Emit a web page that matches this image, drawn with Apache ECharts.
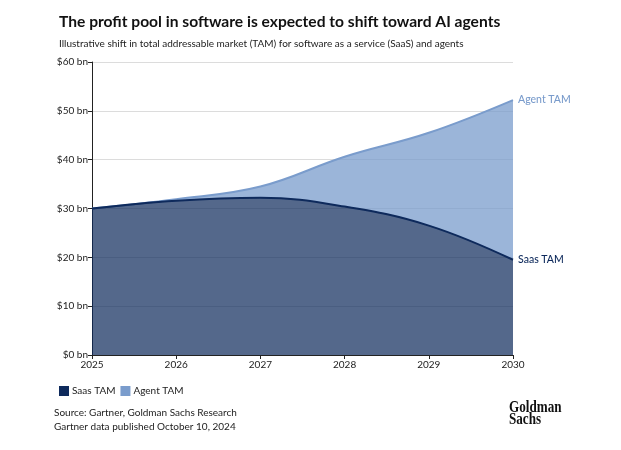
<!DOCTYPE html>
<html><head><meta charset="utf-8">
<script src="https://cdn.jsdelivr.net/npm/echarts@6/dist/echarts.min.js"></script>
<style>html,body{margin:0;padding:0;background:#fff}#c{width:621px;height:450px}</style>
</head><body><div id="c"></div>
<script>
const years = ['2025','2026','2027','2028','2029','2030'];
const saasTam = [30, 31.6, 32.2, 30.4, 26.5, 19.5];
const agentTamTotal = [30, 31.9, 34.5, 40.6, 45.5, 52.2];
const yTicks = [0, 10, 20, 30, 40, 50, 60];
const agentIncrement = agentTamTotal.map((v, i) => +(v - saasTam[i]).toFixed(2));

const FONT = 'Lato, "Open Sans", sans-serif';
const DARK = '#0e2a5c';
const LIGHT = '#7a9ccc';
const chart = echarts.init(document.getElementById('c'));
chart.setOption({
  animation: false,
  textStyle: { fontFamily: FONT },
  title: [
    { text: 'The profit pool in software is expected to shift toward AI agents', left: 54, top: 9,
      textStyle: { fontSize: 15.6, fontWeight: 'bold', color: '#111', fontFamily: FONT } },
    { text: 'Illustrative shift in total addressable market (TAM) for software as a service (SaaS) and agents', left: 54, top: 34,
      textStyle: { fontSize: 10, fontWeight: 'normal', color: '#222', fontFamily: FONT } }
  ],
  grid: { left: 92, right: 108, top: 62, bottom: 95, containLabel: false },
  legend: {
    left: 54, top: 381, itemWidth: 10, itemHeight: 10, itemGap: 5,
    icon: 'rect',
    textStyle: { fontSize: 10, color: '#222', fontFamily: FONT, padding: [0, 0, 0, -2] },
    data: [
      { name: 'Saas TAM', itemStyle: { color: DARK } },
      { name: 'Agent TAM', itemStyle: { color: LIGHT } }
    ]
  },
  xAxis: {
    type: 'category', data: years, boundaryGap: false,
    axisLine: { show: true, lineStyle: { color: '#222', width: 1 } },
    axisTick: { show: true, length: 4, lineStyle: { color: '#222' } },
    axisLabel: { fontSize: 10, color: '#222', margin: 5, fontFamily: FONT },
    splitLine: { show: false }
  },
  yAxis: {
    type: 'value', min: 0, max: 60, interval: 10,
    axisLine: { show: true, lineStyle: { color: '#222', width: 1 } },
    axisTick: { show: true, length: 4, lineStyle: { color: '#222' } },
    axisLabel: { fontSize: 10, color: '#222', margin: 4, fontFamily: FONT,
      formatter: v => yTicks.includes(v) ? '$' + v + ' bn' : '' },
    splitLine: { show: true, lineStyle: { color: '#dcdcdc', width: 1 } }
  },
  series: [
    { name: 'Saas TAM', type: 'line', stack: 'tam', data: saasTam, smooth: 0.4, symbol: 'none',
      lineStyle: { color: DARK, width: 2 }, itemStyle: { color: DARK },
      areaStyle: { color: DARK, opacity: 0.71 },
      endLabel: { show: true, formatter: 'Saas TAM', color: DARK, fontSize: 10.5, fontWeight: 500, fontFamily: FONT, distance: 5 },
      z: 3 },
    { name: 'Agent TAM', type: 'line', stack: 'tam', data: agentIncrement, smooth: 0.4, symbol: 'none',
      lineStyle: { color: LIGHT, width: 2 }, itemStyle: { color: LIGHT },
      areaStyle: { color: LIGHT, opacity: 0.75 },
      endLabel: { show: true, formatter: 'Agent TAM', color: LIGHT, fontSize: 10.5, fontWeight: 500, fontFamily: FONT, distance: 5 },
      z: 2 }
  ],
  graphic: [
    { type: 'text', left: 54, top: 406, style: { text: 'Source: Gartner, Goldman Sachs Research\nGartner data published October 10, 2024',
      font: '10px ' + FONT, fill: '#222', lineHeight: 14 } },
    { type: 'text', x: 509, y: 402, scaleX: 0.82, style: { text: 'Goldman\nSachs',
      font: 'bold 16px "Liberation Serif", "DejaVu Serif", serif', fill: '#111', lineHeight: 12 } }
  ]
});
</script></body></html>
